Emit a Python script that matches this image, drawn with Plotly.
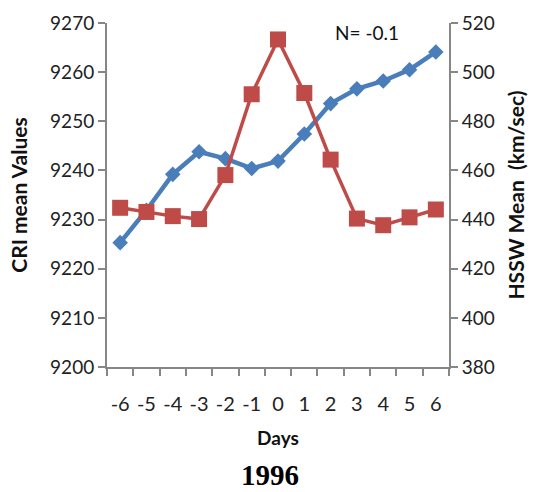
import plotly.graph_objects as go

# Superposed-epoch days
days = ["-6", "-5", "-4", "-3", "-2", "-1", "0", "1", "2", "3", "4", "5", "6"]

# CRI mean values (left axis)
cri_mean = [9225.3, 9231.9, 9239.2, 9243.8, 9242.4, 9240.4, 9241.9,
            9247.4, 9253.6, 9256.6, 9258.2, 9260.5, 9264.1]

# HSSW mean speed in km/sec (right axis)
hssw_mean = [444.8, 443.1, 441.4, 440.2, 458.1, 491.0, 513.3,
             491.5, 464.4, 440.4, 437.7, 440.9, 444.1]

cri_ticks = [9200, 9210, 9220, 9230, 9240, 9250, 9260, 9270]
hssw_ticks = [380, 400, 420, 440, 460, 480, 500, 520]

BLUE = "#4A7EBB"
RED = "#BE4B48"
AXIS = "#868686"
FONT = "Lato"

ML, MR, MT, MB = 107, 85, 23, 125
W, H = 534, 492
pw = W - ML - MR
ph = H - MT - MB

fig = go.Figure()

fig.add_trace(go.Scatter(
    x=days, y=cri_mean, mode="lines+markers", name="CRI",
    line=dict(color=BLUE, width=4.5),
    marker=dict(symbol="diamond", size=12, color=BLUE),
    yaxis="y",
))

fig.add_trace(go.Scatter(
    x=days, y=hssw_mean, mode="lines+markers", name="HSSW",
    line=dict(color=RED, width=3.5),
    marker=dict(symbol="square", size=16, color=RED),
    yaxis="y2",
))

title_font = dict(family=FONT, size=21, color="#111111")

fig.update_layout(
    width=W, height=H,
    margin=dict(l=ML, r=MR, t=MT, b=MB),
    paper_bgcolor="white", plot_bgcolor="white",
    showlegend=False,
    font=dict(family=FONT, size=19, color="#222222"),
    xaxis=dict(
        type="category",
        range=[-0.5, len(days) - 0.5],
        tickmode="array", tickvals=days, ticktext=days,
        tickson="boundaries",
        tickangle=0,
        automargin=False,
        showline=True, linecolor=AXIS, linewidth=2,
        ticks="outside", ticklen=7, tickcolor=AXIS, tickwidth=2,
        ticklabelstandoff=18,
        showgrid=False, zeroline=False,
        tickfont=dict(family=FONT, size=20),
        title=dict(text="<b>Days</b>", font=dict(family=FONT, size=19, color="#111111"),
                   standoff=18),
    ),
    yaxis=dict(
        range=[9200, 9270], tickvals=cri_ticks,
        automargin=False,
        showline=True, linecolor=AXIS, linewidth=2,
        ticks="outside", ticklen=7, tickcolor=AXIS, tickwidth=2,
        showgrid=False, zeroline=False,
        tickfont=dict(family=FONT, size=19),
        title=dict(text="<b>CRI mean Values</b>", font=title_font, standoff=17),
    ),
    yaxis2=dict(
        range=[380, 520], tickvals=hssw_ticks,
        overlaying="y", side="right",
        automargin=False,
        showline=True, linecolor=AXIS, linewidth=2,
        ticks="outside", ticklen=7, tickcolor=AXIS, tickwidth=2,
        showgrid=False, zeroline=False,
        tickfont=dict(family=FONT, size=19),
        title=dict(text="<b>HSSW Mean&nbsp; (km/sec)</b>", font=title_font, standoff=15),
    ),
    annotations=[
        dict(text="N= -0.1", x=(367 - ML) / pw, y=1 - (32 - MT) / ph,
             xref="paper", yref="paper", xanchor="center", yanchor="middle",
             showarrow=False, font=dict(family=FONT, size=19, color="#111111")),
        dict(text="<b>1996</b>", x=(270 - ML) / pw, y=1 - (475 - MT) / ph,
             xref="paper", yref="paper", xanchor="center", yanchor="middle",
             showarrow=False, font=dict(family="Liberation Serif", size=29, color="#000000")),
    ],
)

fig.write_html("out.html")
